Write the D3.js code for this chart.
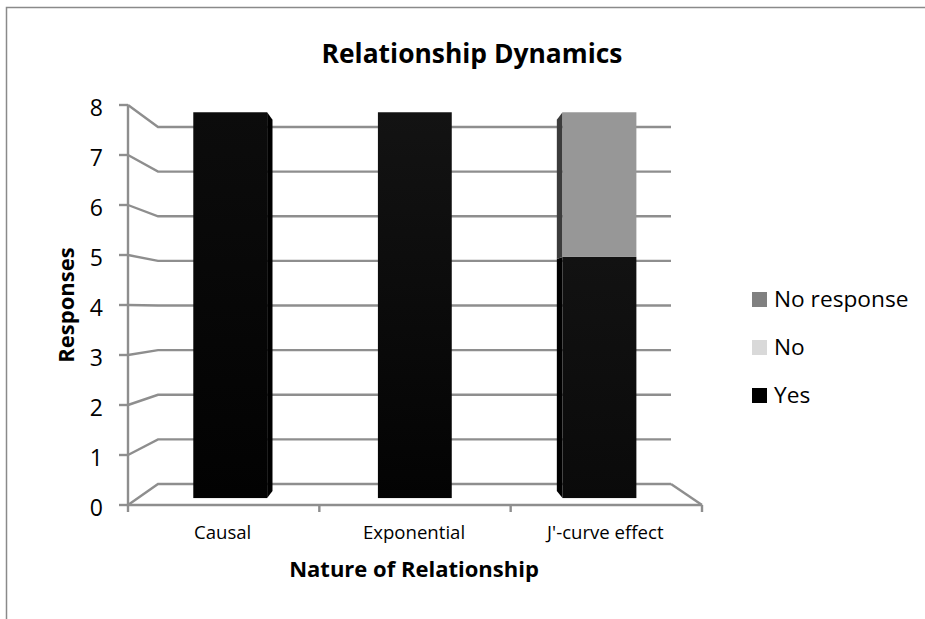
<!DOCTYPE html>
<html>
<head>
<meta charset="utf-8">
<script src="https://cdn.jsdelivr.net/npm/d3@7/dist/d3.min.js"></script>
<style>
html,body{margin:0;padding:0;background:#fff;}
svg{display:block;}
text{font-family:"Open Sans","Lato",sans-serif;fill:#000;}
</style>
</head>
<body>
<div id="chart"></div>
<script>
// Survey responses per relationship type
const categories = ["Causal", "Exponential", "J'-curve effect"];
const yesValues = [8, 8, 5];
const noValues = [0, 0, 3];
const noResponseValues = [0, 0, 0];
const seriesNames = ["Yes", "No", "No response"];
const yTicks = [0, 1, 2, 3, 4, 5, 6, 7, 8];
const legendOrder = ["No response", "No", "Yes"];

const width = 925, height = 619;
const svg = d3.select("#chart").append("svg").attr("width", width).attr("height", height);

// Chart frame: only the top and left edges fall inside the page
svg.append("path").attr("d", `M6.5,${height}V7.5H${width}`)
  .attr("fill", "none").attr("stroke", "#8a8a8a").attr("stroke-width", 1.5);

// The pseudo-3D box: a front plane and a back plane, with bars placed between them
const xFront = d3.scaleBand().domain(categories).range([128, 702]);
const xBack = d3.scaleBand().domain(categories).range([158, 671]);
const yFront = d3.scaleLinear().domain([0, 8]).range([505, 105]);
const yBack = d3.scaleLinear().domain([0, 8]).range([484, 127]);

const depthNear = 0.33, depthFar = 0.67, barShare = 0.4;
const lerp = (a, b, t) => a + (b - a) * t;
const projY = (v, t) => lerp(yFront(v), yBack(v), t);
const bandAt = (c, t) => {
  const center = lerp(xFront(c) + xFront.bandwidth() / 2, xBack(c) + xBack.bandwidth() / 2, t);
  const half = lerp(xFront.bandwidth(), xBack.bandwidth(), t) * barShare / 2;
  return [center - half, center + half];
};

const gridColor = "#8e8e8e";
const grid = svg.append("g").attr("fill", "none").attr("stroke", gridColor).attr("stroke-width", 2.4);

// Walls and floor
yTicks.forEach(v => {
  grid.append("path").attr("d", d3.line()([
    [xFront.range()[0], yFront(v)],
    [xBack.range()[0], yBack(v)],
    [xBack.range()[1], yBack(v)]
  ]));
});
grid.append("path").attr("d", d3.line()([
  [xBack.range()[1], yBack(0)],
  [xFront.range()[1], yFront(0)]
]));

// Front axes with outward ticks
grid.append("path").attr("d", `M${xFront.range()[0]},${yFront(8)}V${yFront(0)}H${xFront.range()[1]}`);
yTicks.forEach(v => {
  grid.append("path").attr("d", `M${xFront.range()[0] - 9},${yFront(v)}H${xFront.range()[0]}`);
});
[...categories.map(c => xFront(c)), xFront.range()[1]].forEach(x => {
  grid.append("path").attr("d", `M${x},${yFront(0)}v7`);
});

// Stacked bars
const table = categories.map((c, i) => ({
  category: c, Yes: yesValues[i], No: noValues[i], "No response": noResponseValues[i]
}));
const stacked = d3.stack().keys(seriesNames)(table);

// Each dark column has its own slight top-to-bottom shading
const shadeTop = ["#0c0c0c", "#131313", "#121212"];
const shadeBottom = ["#020202", "#030303", "#0a0a0a"];
const defs = svg.append("defs");
categories.forEach((c, i) => {
  const grad = defs.append("linearGradient").attr("id", `yesFill${i}`)
    .attr("x1", 0).attr("x2", 0).attr("y1", 0).attr("y2", 1);
  grad.append("stop").attr("offset", 0).attr("stop-color", shadeTop[i]);
  grad.append("stop").attr("offset", 1).attr("stop-color", shadeBottom[i]);
});

const faceFill = (key, c) => key === "Yes" ? `url(#yesFill${categories.indexOf(c)})`
  : key === "No" ? "#979797" : "#808080";
const sideFill = { "Yes": "#000000", "No": "#3c3c3c", "No response": "#333333" };
const legendFill = { "Yes": "#000000", "No": "#d9d9d9", "No response": "#808080" };

const bars = svg.append("g");
stacked.forEach(layer => {
  layer.forEach(seg => {
    const c = seg.data.category;
    if (seg[1] === seg[0]) return;
    const [n0, n1] = bandAt(c, depthNear);
    const [f0, f1] = bandAt(c, depthFar);
    const yn0 = projY(seg[0], depthNear), yn1 = projY(seg[1], depthNear);
    const yf0 = projY(seg[0], depthFar), yf1 = projY(seg[1], depthFar);
    // Whichever side face the viewpoint can see
    if (f1 > n1) {
      bars.append("path").attr("fill", sideFill[layer.key]).attr("d", d3.line()([
        [n1, yn0], [n1, yn1], [f1, yf1], [f1, yf0]
      ]) + "Z");
    }
    if (f0 < n0) {
      bars.append("path").attr("fill", sideFill[layer.key]).attr("d", d3.line()([
        [n0, yn0], [n0, yn1], [f0, yf1], [f0, yf0]
      ]) + "Z");
    }
    bars.append("rect").attr("x", n0).attr("width", n1 - n0)
      .attr("y", yn1).attr("height", yn0 - yn1).attr("fill", faceFill(layer.key, c));
  });
});

// Value axis labels
svg.append("g").selectAll("text").data(yTicks).join("text")
  .attr("x", 103).attr("y", d => yFront(d) + 10.5)
  .attr("text-anchor", "end").attr("font-size", 23).text(d => d);

// Category labels
svg.append("g").selectAll("text").data(categories).join("text")
  .attr("x", d => xFront(d) + xFront.bandwidth() / 2 - 1).attr("y", 539)
  .attr("text-anchor", "middle").attr("font-size", 18.6).text(d => d);

// Titles
svg.append("text").attr("x", 472).attr("y", 63).attr("text-anchor", "middle")
  .attr("font-size", 26.4).attr("font-weight", 700).text("Relationship Dynamics");
svg.append("text").attr("x", 414).attr("y", 577).attr("text-anchor", "middle")
  .attr("font-size", 22).attr("font-weight", 700).text("Nature of Relationship");
svg.append("text").attr("transform", "translate(74,305) rotate(-90)").attr("text-anchor", "middle")
  .attr("font-size", 22).attr("font-weight", 700).text("Responses");

// Legend
const legendY = d3.scalePoint().domain(legendOrder).range([299.5, 395.5]);
const legend = svg.append("g").selectAll("g").data(legendOrder).join("g")
  .attr("transform", d => `translate(752,${legendY(d)})`);
legend.append("rect").attr("y", -7.5).attr("width", 15).attr("height", 15).attr("fill", d => legendFill[d]);
legend.append("text").attr("x", 22).attr("y", 7.5).attr("font-size", 22.7).text(d => d);
</script>
</body>
</html>
